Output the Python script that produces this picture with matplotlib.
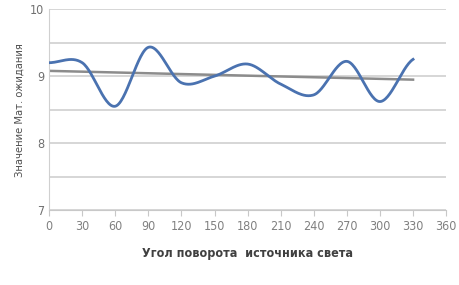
import numpy as np
import matplotlib.pyplot as plt

# data
angles = [0, 30, 60, 90, 120, 150, 180, 210, 240, 270, 300, 330]
values = [9.2, 9.2, 8.55, 9.43, 8.9, 9.0, 9.18, 8.88, 8.72, 9.22, 8.62, 9.25]
x_ticks = list(range(0, 361, 30))
y_labels = [7, 8, 9, 10]

plt.rcParams['font.family'] = ['DejaVu Sans']
plt.rcParams['font.stretch'] = 'condensed'


def smooth(x, y, n=30):
    # Catmull-Rom spline through points (like Excel smoothed line)
    x = np.asarray(x, float)
    y = np.asarray(y, float)
    px = np.concatenate([[2 * x[0] - x[1]], x, [2 * x[-1] - x[-2]]])
    py = np.concatenate([[y[0]], y, [y[-1]]])
    xs, ys = [], []
    t = np.linspace(0, 1, n, endpoint=False)
    for i in range(1, len(px) - 2):
        for p, out in ((px, xs), (py, ys)):
            p0, p1, p2, p3 = p[i - 1], p[i], p[i + 1], p[i + 2]
            out.extend(0.5 * (2 * p1 + (-p0 + p2) * t + (2 * p0 - 5 * p1 + 4 * p2 - p3) * t ** 2
                              + (-p0 + 3 * p1 - 3 * p2 + p3) * t ** 3))
    xs.append(x[-1])
    ys.append(y[-1])
    return np.array(xs), np.array(ys)


fig = plt.figure(figsize=(4.59, 2.85), dpi=100)
ax = fig.add_axes([0.107, 0.263, 0.865, 0.705])

for yv in np.arange(7, 10.01, 0.5):
    ax.axhline(yv, color='#d0d0d0', lw=1.2, zorder=0)

sx, sy = smooth(angles, values)
ax.plot(sx, sy, color='#4a72b0', lw=2, zorder=3)

k, b = np.polyfit(angles, values, 1)
ax.plot([angles[0], angles[-1]], [k * angles[0] + b, k * angles[-1] + b], color='#8c8c8c', lw=1.8, zorder=2)

ax.set_xlim(0, 360)
ax.set_ylim(7, 10)
ax.set_xticks(x_ticks)
ax.set_yticks(y_labels)
ax.tick_params(axis='x', colors='#c8c8c8', labelcolor='#808080', labelsize=9, length=4, direction='out')
ax.tick_params(axis='y', length=0, labelcolor='#707070', labelsize=9)
for s in ['top', 'right']:
    ax.spines[s].set_visible(False)
ax.spines['left'].set_color('#d0d0d0')
ax.spines['bottom'].set_color('#c8c8c8')

ax.set_xlabel('Угол поворота  источника света', fontsize=9, fontweight='bold', color='#404040', labelpad=10)
ax.set_ylabel('Значение Мат. ожидания', fontsize=8, color='#505050', labelpad=4)

plt.savefig('out.png', dpi=100)
